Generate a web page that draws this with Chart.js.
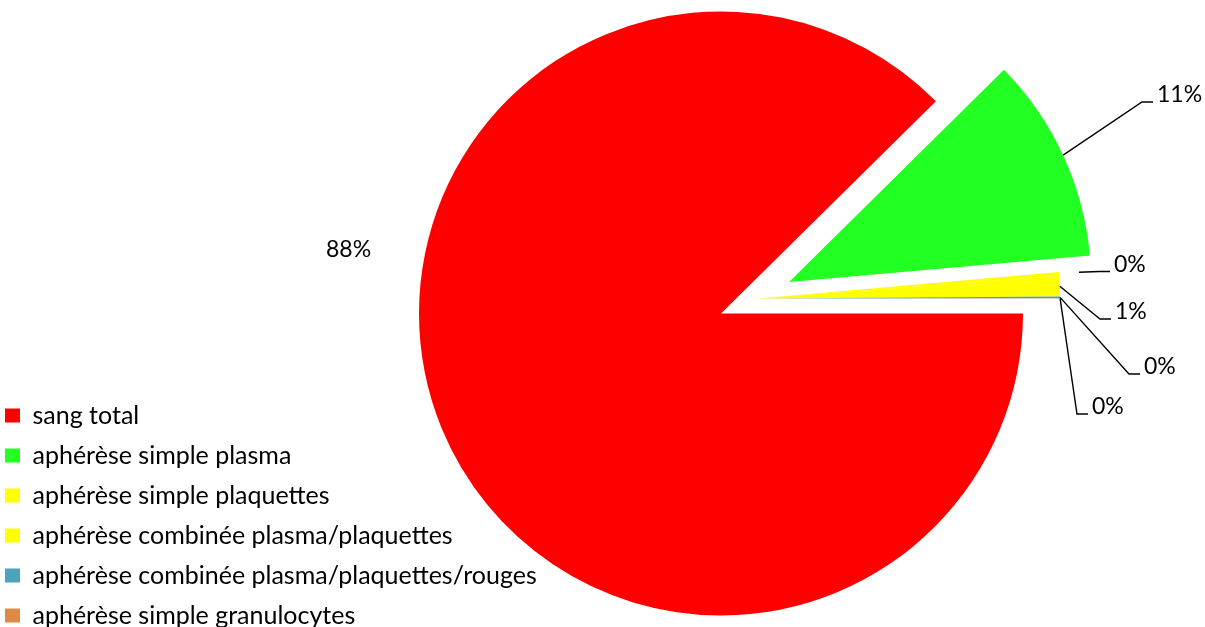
<!DOCTYPE html>
<html lang="fr">
<head>
<meta charset="utf-8">
<title>Répartition des prélèvements</title>
<script src="https://cdn.jsdelivr.net/npm/chart.js@4.4.1/dist/chart.umd.min.js"></script>
<style>
  html, body { margin: 0; padding: 0; background: #fff; width: 1205px; height: 627px; overflow: hidden; position: relative; }
  /* the canvas runs past the page edges: the legend overflows at the bottom */
  #pie { position: absolute; left: -10px; top: -16px; display: block; }
</style>
</head>
<body>
<canvas id="pie" width="1462" height="659"></canvas>
<script>
// Types de prélèvement
const categories = [
  'sang total',
  'aphérèse simple plasma',
  'aphérèse simple plaquettes',
  'aphérèse combinée plasma/plaquettes',
  'aphérèse combinée plasma/plaquettes/rouges',
  'aphérèse simple granulocytes'
];

// Part de chaque type de prélèvement (%)
const shares = [87.6, 11.0, 0.2, 1.1, 0.08, 0.02];

const sliceColors = ['#FF0000', '#22FF22', '#FFFF00', '#FFFF00', '#4BA3BE', '#DE8A45'];

const FONT = 'Lato, "Open Sans", sans-serif';
const LEGEND_FONT_SIZE = 25;
const LABEL_FONT_SIZE = 23;
const PIE_RADIUS = 302;

// Parts détachées : distance (px) et direction (degrés ; null = bissectrice de la part)
const explode = [
  { dist: 0,  dir: null },
  { dist: 75, dir: null },
  { dist: 40, dir: -22 },
  { dist: 40, dir: -22 },
  { dist: 40, dir: -22 },
  { dist: 40, dir: -22 }
];

// Étiquettes : point de départ du texte (gauche, ligne de base) par rapport au centre du disque
const labelSpots = [
  { dx: -395, dy: -56.5, leader: false },
  { dx: 436,  dy: -211.5, leader: true, reach: 1 },
  { dx: 393,  dy: -42,   leader: true, reach: 1.066 },
  { dx: 394,  dy: 5.5,   leader: true, reach: 1 },
  { dx: 423,  dy: 60.5,  leader: true, reach: 1 },
  { dx: 371,  dy: 100.5, leader: true, reach: 1 }
];

function shiftOf(i, arc) {
  const e = explode[i];
  if (!e || !e.dist) return { x: 0, y: 0 };
  const a = e.dir === null ? (arc.startAngle + arc.endAngle) / 2 : e.dir * Math.PI / 180;
  return { x: Math.cos(a) * e.dist, y: Math.sin(a) * e.dist };
}

// Dessine chaque part déplacée sans agrandir son rayon
const explodedSlices = {
  id: 'explodedSlices',
  beforeDatasetDraw(chart, args) {
    const ctx = chart.ctx;
    args.meta.data.forEach((arc, i) => {
      const s = shiftOf(i, arc);
      ctx.save();
      ctx.translate(s.x, s.y);
      arc.draw(ctx, chart.chartArea);
      ctx.restore();
    });
    return false;
  }
};

// Pourcentages avec lignes de rappel
const sliceLabels = {
  id: 'sliceLabels',
  afterDatasetsDraw(chart) {
    const ctx = chart.ctx;
    const meta = chart.getDatasetMeta(0);
    const values = chart.data.datasets[0].data;
    const total = values.reduce((a, b) => a + b, 0);
    ctx.save();
    ctx.font = LABEL_FONT_SIZE + 'px ' + FONT;
    ctx.fillStyle = '#000';
    ctx.strokeStyle = '#000';
    ctx.lineWidth = 1.4;
    ctx.textAlign = 'left';
    ctx.textBaseline = 'alphabetic';
    meta.data.forEach((arc, i) => {
      const spot = labelSpots[i];
      const tx = arc.x + spot.dx;
      const ty = arc.y + spot.dy;
      if (spot.leader) {
        const s = shiftOf(i, arc);
        const mid = (arc.startAngle + arc.endAngle) / 2;
        const r = arc.outerRadius * spot.reach;
        const ax = arc.x + s.x + Math.cos(mid) * r;
        const ay = arc.y + s.y + Math.sin(mid) * r;
        ctx.beginPath();
        ctx.moveTo(ax, ay);
        ctx.lineTo(tx - 15, ty);
        ctx.lineTo(tx - 4, ty);
        ctx.stroke();
      }
      ctx.fillText(Math.round(values[i] / total * 100) + '%', tx, ty);
    });
    ctx.restore();
  }
};

new Chart(document.getElementById('pie'), {
  type: 'pie',
  data: {
    labels: categories,
    datasets: [{
      data: shares,
      backgroundColor: sliceColors,
      borderWidth: 0
    }]
  },
  options: {
    responsive: false,
    devicePixelRatio: 1,
    animation: false,
    events: [],
    rotation: 90,
    radius: PIE_RADIUS,
    layout: { padding: 0 },
    plugins: {
      legend: {
        position: 'chartArea',
        align: 'end',
        labels: {
          boxWidth: 15,
          boxHeight: 14,
          padding: 15,
          color: '#000',
          font: { family: FONT, size: LEGEND_FONT_SIZE }
        }
      },
      tooltip: { enabled: false }
    }
  },
  plugins: [explodedSlices, sliceLabels]
});
</script>
</body>
</html>
